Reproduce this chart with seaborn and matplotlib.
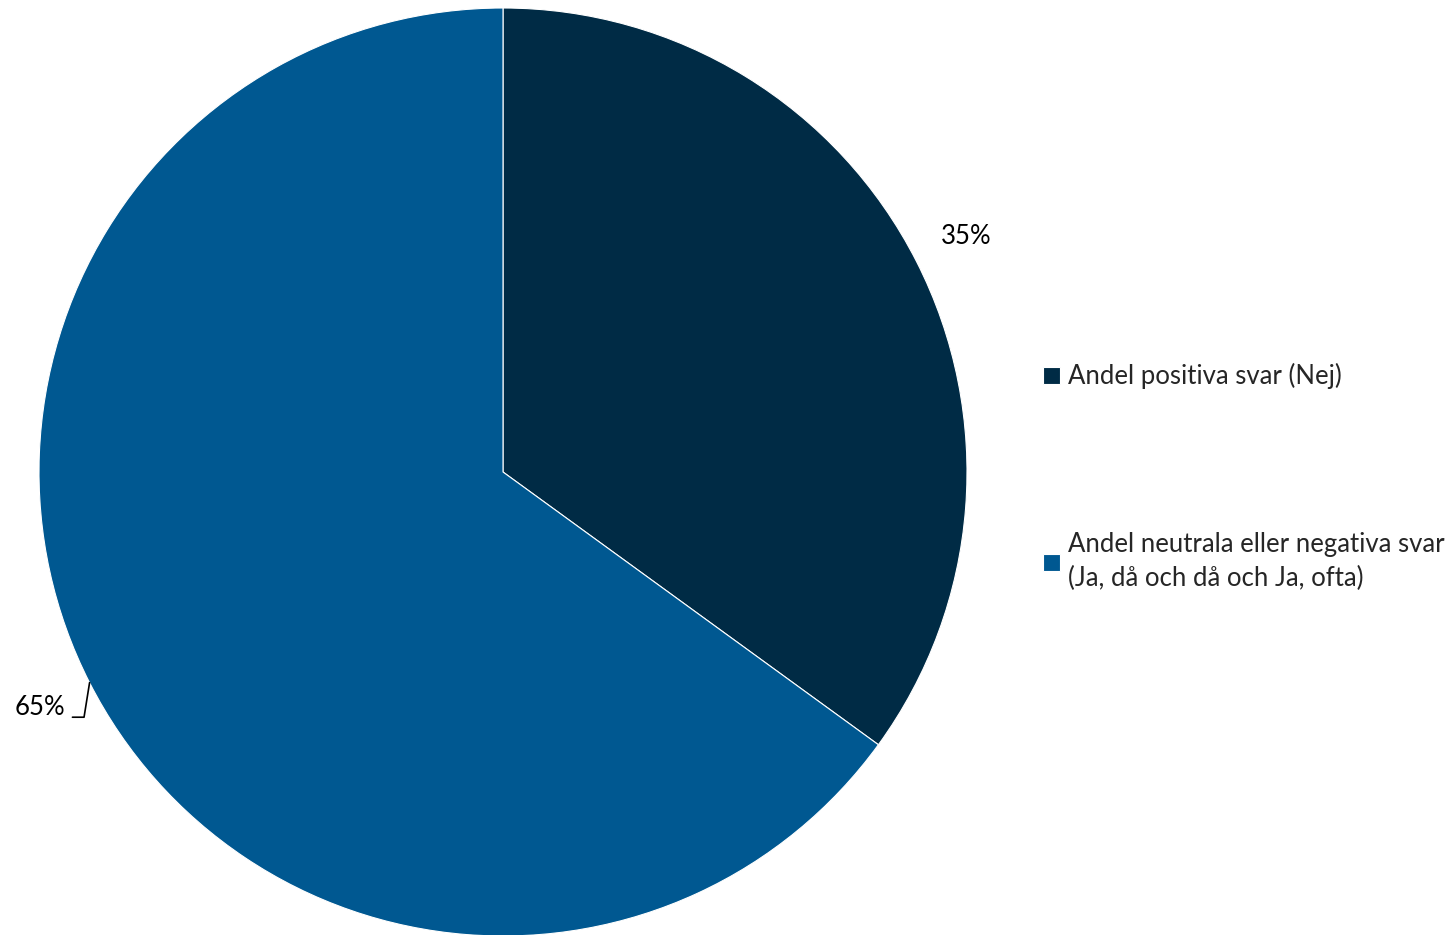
import numpy as np
import seaborn as sns
import matplotlib.pyplot as plt

sns.set_theme(style="white")
plt.rcParams['font.family'] = ['Lato', 'DejaVu Sans']

labels = ['Andel positiva svar (Nej)',
          'Andel neutrala eller negativa svar\n(Ja, då och då och Ja, ofta)']
values = [35, 65]
colors = ['#002B45', '#005891']

fig = plt.figure(figsize=(14.55, 9.35), dpi=100)
W, H = 1455, 935
cx, cy, r = 503, 472, 464
ax = fig.add_axes([(cx - r) / W, (H - cy - r) / H, 2 * r / W, 2 * r / H])

wedges, texts, autotexts = ax.pie(
    values, colors=colors, startangle=90, counterclock=False,
    autopct='%1.0f%%', pctdistance=1.12,
    wedgeprops=dict(edgecolor='white', linewidth=0.8),
    textprops=dict(fontsize=18.5, color='#000000'))
ax.set_xlim(-1, 1)
ax.set_ylim(-1, 1)
ax.set_aspect('equal')
ax.axis('off')

# leader line for the 65% label
w = wedges[1]
mid = np.deg2rad((w.theta1 + w.theta2) / 2)
ex, ey = np.cos(mid), np.sin(mid)
tx, ty = autotexts[1].get_position()
ly = ty - 0.02
ax.plot([tx + 0.07, tx + 0.095, ex], [ly, ly, ey], color='black', lw=1.2,
        clip_on=False)

leg = fig.legend(wedges, labels, loc='upper left',
                 bbox_to_anchor=(1020 / W, 1 - 340 / H),
                 frameon=False, fontsize=18.5, handlelength=0.65,
                 handleheight=0.65, handletextpad=0.3, labelspacing=5.55)
for t in leg.get_texts():
    t.set_linespacing(1.43)

fig.savefig('out.png', dpi=100)
